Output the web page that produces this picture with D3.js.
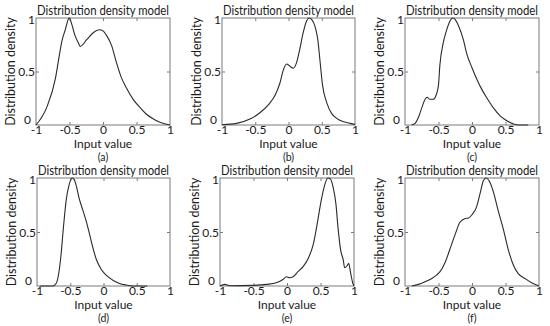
<!DOCTYPE html>
<html><head><meta charset="utf-8">
<script src="https://cdn.jsdelivr.net/npm/d3@7"></script>
<style>body{margin:0;background:#fff}svg{display:block}</style>
</head><body>
<svg id="chart" width="550" height="326"></svg>
<script>
const panelLabels = ["(a)","(b)","(c)","(d)","(e)","(f)"];
const titleText = "Distribution density model";
const xLabelText = "Input value";
const yLabelText = "Distribution density";
const xTicks = [-1,-0.5,0,0.5,1];
const xTickLabels = ["-1","-0.5","0","0.5","1"];
const yTicks = [0,0.5,1];
const yTickLabels = ["0","0.5","1"];

const seriesA = [[-1,0],[-0.84,0.165],[-0.71,0.435],[-0.66,0.62],[-0.615,0.78],[-0.565,0.886],[-0.516,0.99],[-0.5,1],[-0.47,0.95],[-0.42,0.84],[-0.37,0.77],[-0.34,0.735],[-0.24,0.80],[-0.15,0.86],[-0.05,0.89],[0,0.88],[0.05,0.84],[0.13,0.74],[0.2,0.585],[0.27,0.45],[0.35,0.345],[0.45,0.24],[0.55,0.165],[0.64,0.105],[0.74,0.06],[0.84,0.027],[0.94,0.009],[1,0]];
const seriesB = [[-1,0.003],[-0.78,0.015],[-0.58,0.055],[-0.43,0.115],[-0.30,0.19],[-0.20,0.28],[-0.13,0.39],[-0.08,0.51],[-0.03,0.57],[0.02,0.55],[0.07,0.53],[0.12,0.58],[0.17,0.71],[0.22,0.86],[0.27,0.97],[0.31,1.0],[0.35,0.985],[0.40,0.92],[0.44,0.80],[0.48,0.56],[0.51,0.38],[0.58,0.2],[0.65,0.106],[0.73,0.06],[0.83,0.03],[0.93,0.015],[1,0.006]];
const seriesC = [[-0.90,0],[-0.85,0.015],[-0.80,0.07],[-0.75,0.16],[-0.70,0.24],[-0.67,0.26],[-0.63,0.24],[-0.58,0.24],[-0.53,0.29],[-0.50,0.375],[-0.48,0.555],[-0.43,0.765],[-0.38,0.885],[-0.33,0.97],[-0.29,1.0],[-0.25,0.985],[-0.20,0.925],[-0.13,0.80],[-0.08,0.67],[0,0.535],[0.07,0.43],[0.14,0.34],[0.22,0.255],[0.32,0.16],[0.42,0.085],[0.52,0.04],[0.62,0.01],[0.69,0],[0.84,0]];
const seriesD = [[-0.96,0],[-0.76,0],[-0.71,0.025],[-0.67,0.13],[-0.64,0.28],[-0.60,0.56],[-0.56,0.80],[-0.52,0.93],[-0.47,1.0],[-0.44,0.985],[-0.41,0.93],[-0.37,0.82],[-0.31,0.70],[-0.26,0.60],[-0.21,0.48],[-0.16,0.355],[-0.11,0.25],[-0.04,0.16],[0.04,0.10],[0.14,0.054],[0.24,0.024],[0.34,0.009],[0.44,0],[0.66,0]];
const seriesE = [[-1,0],[-0.93,0.015],[-0.85,0.003],[-0.5,0.006],[-0.3,0.015],[-0.16,0.03],[-0.06,0.06],[-0.01,0.085],[0.04,0.076],[0.09,0.085],[0.17,0.137],[0.24,0.18],[0.32,0.26],[0.39,0.38],[0.46,0.61],[0.51,0.79],[0.56,0.93],[0.61,1.0],[0.65,0.99],[0.69,0.91],[0.73,0.76],[0.76,0.55],[0.80,0.335],[0.84,0.24],[0.86,0.17],[0.90,0.19],[0.92,0.21],[0.95,0.12],[0.98,0.03],[1,0]];
const seriesF = [[-0.9,0],[-0.80,0.015],[-0.70,0.04],[-0.60,0.07],[-0.53,0.10],[-0.48,0.13],[-0.40,0.22],[-0.33,0.34],[-0.25,0.48],[-0.18,0.59],[-0.10,0.625],[-0.05,0.63],[0,0.66],[0.07,0.735],[0.12,0.855],[0.17,0.975],[0.21,1.0],[0.26,0.97],[0.32,0.87],[0.39,0.70],[0.47,0.52],[0.54,0.34],[0.62,0.19],[0.69,0.115],[0.79,0.07],[0.89,0.03],[1,0]];
const allSeries = [seriesA,seriesB,seriesC,seriesD,seriesE,seriesF];

const boxes = [
  {l:36,r:170,t:18,b:125},{l:222,r:355,t:18,b:125},{l:405,r:539,t:18,b:125},
  {l:37,r:170,t:178,b:286},{l:220,r:354,t:178,b:286},{l:405,r:539,t:178,b:286}
];
const FONT = "Lato, 'Open Sans', sans-serif";
const svg = d3.select("#chart");
const axisColor = "#7a7a7a";
const textColor = "#1a1a1a";

boxes.forEach((bx,i)=>{
  const x = d3.scaleLinear().domain([-1,1]).range([bx.l,bx.r]);
  const y = d3.scaleLinear().domain([0,1]).range([bx.b,bx.t]);
  const g = svg.append("g");
  const ax = d3.axisBottom(x).tickValues(xTicks).tickSize(-3).tickPadding(0)
    .tickFormat((d,k)=>xTickLabels[k]);
  const gx = g.append("g").attr("transform",`translate(0,${bx.b})`).call(ax);
  gx.select(".domain").remove();
  gx.selectAll("line").attr("stroke",axisColor).filter(d=>d===-1||d===1).remove();
  gx.selectAll("text").attr("font-family",FONT).attr("font-size",12).attr("fill",textColor)
    .attr("y",8.7).attr("dy",0);
  const at = d3.axisTop(x).tickValues(xTicks.filter(d=>d>-1&&d<1)).tickSize(-3).tickFormat("");
  const gt = g.append("g").attr("transform",`translate(0,${bx.t})`).call(at);
  gt.select(".domain").remove(); gt.selectAll("line").attr("stroke",axisColor);
  const ay = d3.axisLeft(y).tickValues(yTicks).tickSize(-3).tickPadding(1)
    .tickFormat((d,k)=>yTickLabels[k]);
  const gy = g.append("g").attr("transform",`translate(${bx.l},0)`).call(ay);
  gy.select(".domain").remove();
  gy.selectAll("line").attr("stroke",axisColor).filter(d=>d===0||d===1).remove();
  gy.selectAll("text").attr("font-family",FONT).attr("font-size",12).attr("fill",textColor)
    .attr("x",d=>d===0?-5:-1)
    .attr("dy",d=>d===0?"-2":(d===1?"0.45em":"0.35em"));
  const ar = d3.axisRight(y).tickValues([0.5]).tickSize(-3).tickFormat("");
  const gr = g.append("g").attr("transform",`translate(${bx.r},0)`).call(ar);
  gr.select(".domain").remove(); gr.selectAll("line").attr("stroke",axisColor);
  g.append("rect").attr("x",bx.l).attr("y",bx.t).attr("width",bx.r-bx.l).attr("height",bx.b-bx.t)
    .attr("fill","none").attr("stroke",axisColor).attr("stroke-width",1);
  const line = d3.line().x(d=>x(d[0])).y(d=>y(d[1])).curve(d3.curveMonotoneX);
  g.append("path").datum(allSeries[i]).attr("d",line).attr("fill","none")
    .attr("stroke","#2a2a2a").attr("stroke-width",1.1);
  const cx = (bx.l+bx.r)/2;
  g.append("text").attr("x",cx).attr("y",bx.t-3).attr("text-anchor","middle")
    .attr("font-family",FONT).attr("font-size",12.5).attr("fill",textColor)
    .attr("textLength",bx.r-bx.l-2).attr("lengthAdjust","spacingAndGlyphs").text(titleText);
  g.append("text").attr("x",cx).attr("y",bx.b+23).attr("text-anchor","middle")
    .attr("font-family",FONT).attr("font-size",12).attr("fill",textColor).text(xLabelText);
  g.append("text").attr("x",cx).attr("y",bx.b+36).attr("text-anchor","middle")
    .attr("font-family",FONT).attr("font-size",10.5).attr("fill",textColor).text(panelLabels[i]);
  g.append("text").attr("transform",`translate(${bx.l-21},${(bx.t+bx.b)/2}) rotate(-90)`)
    .attr("text-anchor","middle").attr("font-family",FONT).attr("font-size",12.5).attr("fill",textColor).text(yLabelText);
});
</script>
</body></html>
